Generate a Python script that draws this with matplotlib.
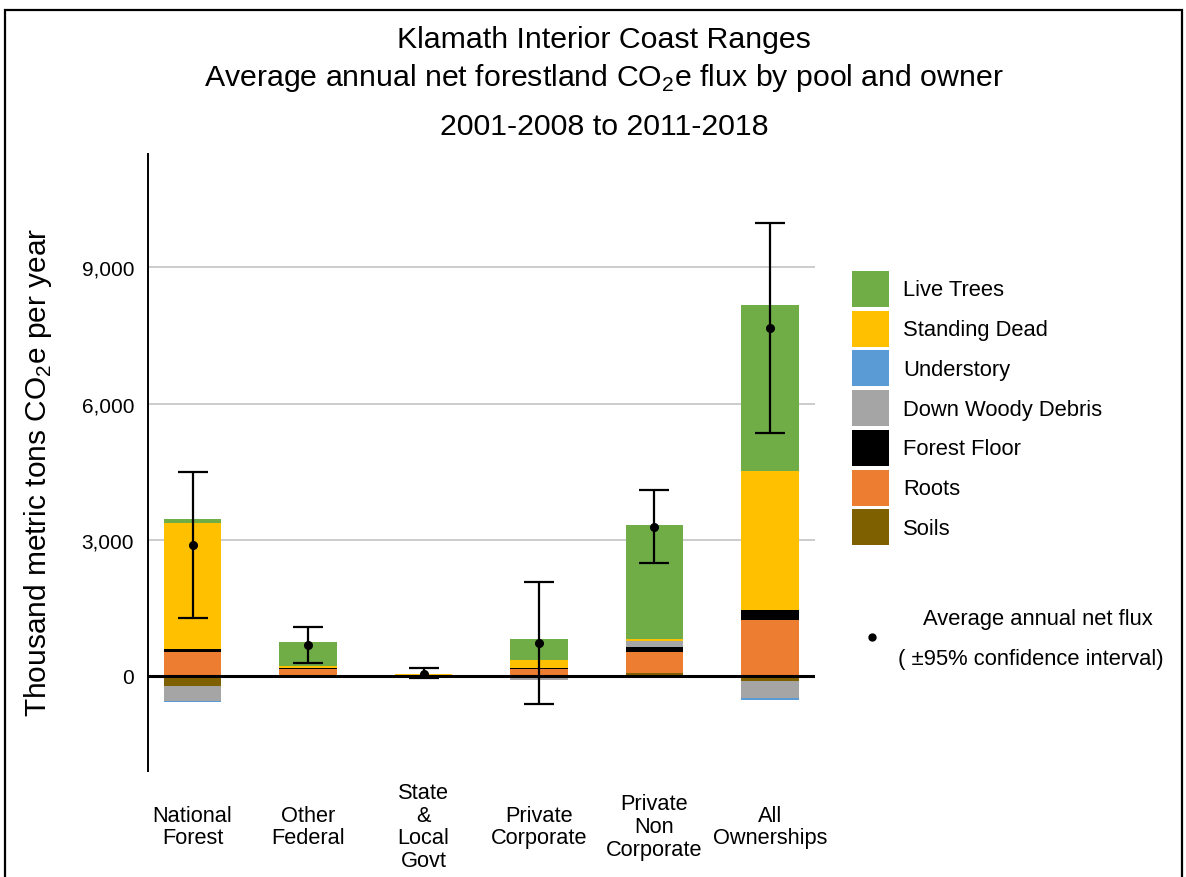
import numpy as np
import matplotlib
matplotlib.use("Agg")
import matplotlib.pyplot as plt
from matplotlib.patches import Rectangle
from matplotlib.lines import Line2D

plt.rcParams["font.family"] = ["Liberation Sans", "DejaVu Sans"]
plt.rcParams["mathtext.fontset"] = "custom"
plt.rcParams["mathtext.rm"] = "Liberation Sans"

# owners along x
owners = ["National\nForest", "Other\nFederal", "State\n&\nLocal\nGovt",
          "Private\nCorporate", "Private\nNon\nCorporate", "All\nOwnerships"]

# pools in stacking order (closest to zero first)
pools = ["Soils", "Roots", "Forest Floor", "Down Woody Debris",
         "Understory", "Standing Dead", "Live Trees"]
pool_colors = ["#7F6000", "#ED7D31", "#000000", "#A5A5A5",
               "#5B9BD5", "#FFC000", "#70AD47"]

# thousand metric tons CO2e per year, one list per pool
soils = [-236, 0, -8, 0, 60, -110]
roots = [525, 143, 5, 148, 470, 1221]
forest_floor = [60, 30, 2, 22, 104, 222]
down_woody = [-331, -45, -5, -104, 124, -386]
understory = [-20, -8, -2, 0, -25, -30]
standing_dead = [2773, 44, 25, 183, 60, 3076]
live_trees = [95, 530, 15, 456, 2500, 3642]
pool_values = [soils, roots, forest_floor, down_woody,
               understory, standing_dead, live_trees]

# net flux and 95% confidence interval
net_flux = [2879, 688, 49, 721, 3287, 7657]
ci_low = [1268, 276, -40, -624, 2477, 5344]
ci_high = [4483, 1077, 172, 2058, 4088, 9970]

W, H = 1186, 878
fig = plt.figure(figsize=(W / 100, H / 100), dpi=100)
ax = fig.add_axes([148 / W, 1 - 772 / H, 667 / W, 617 / H])

x = np.arange(len(owners))
pos_base = np.zeros(len(owners))
neg_base = np.zeros(len(owners))
for name, vals, col in zip(pools, pool_values, pool_colors):
    vals = np.array(vals, dtype=float)
    base = np.where(vals >= 0, pos_base, neg_base)
    ax.bar(x, vals, width=0.5, bottom=base, color=col, zorder=3, linewidth=0)
    pos_base += np.where(vals >= 0, vals, 0)
    neg_base += np.where(vals < 0, vals, 0)

net = np.array(net_flux)
yerr = [net - np.array(ci_low), np.array(ci_high) - net]
ax.errorbar(x, net, yerr=yerr, fmt="o", color="black", ms=5.5,
            elinewidth=1.6, capsize=11, capthick=1.6, zorder=5)

ax.axhline(0, color="black", lw=2.2, zorder=4)
ax.set_ylim(-2100, 11500)
ax.set_xlim(-0.386, 5.39)
ax.set_yticks([0, 3000, 6000, 9000])
ax.set_yticklabels(["0", "3,000", "6,000", "9,000"], fontsize=15)
ax.yaxis.grid(True, color="#C8C8C8", lw=1.3, zorder=0)
ax.tick_params(axis="y", length=0, pad=10)
ax.tick_params(axis="x", length=0, pad=40)
ax.set_xticks(x)
ax.set_xticklabels(owners, va="center", linespacing=1.1, fontsize=15.7)
for s in ["top", "right", "bottom"]:
    ax.spines[s].set_visible(False)
ax.spines["left"].set_linewidth(1.4)

fig.text(38 / W, 1 - 472 / H, "Thousand metric tons CO$_2$e per year",
         rotation=90, ha="center", va="center", fontsize=21.5)

titles = ["Klamath Interior Coast Ranges",
          "Average annual net forestland CO$_2$e flux by pool and owner",
          "2001-2008 to 2011-2018"]
for t, yy in zip(titles, [40, 78, 127]):
    fig.text(604 / W, 1 - yy / H, t, ha="center", va="center", fontsize=21.8)

# legend: colour squares, top entry is the last pool stacked
sq_w, sq_h, pitch = 37, 36, 39.7
for i, (name, col) in enumerate(zip(pools[::-1], pool_colors[::-1])):
    top = 272 + i * pitch
    fig.add_artist(Rectangle((852 / W, 1 - (top + sq_h) / H), sq_w / W, sq_h / H,
                             transform=fig.transFigure, facecolor=col,
                             edgecolor="none"))
    fig.text(903 / W, 1 - (top + sq_h / 2 + 1) / H, name, ha="left",
             va="center", fontsize=15.8)

fig.add_artist(Line2D([872 / W], [1 - 638 / H], marker="o",
                      color="black", ms=5, transform=fig.transFigure))
fig.text(1038 / W, 1 - 620 / H, "Average annual net flux",
         ha="center", va="center", fontsize=15.8)
fig.text(1031 / W, 1 - 660 / H, "( \u00b195% confidence interval)",
         ha="center", va="center", fontsize=15.8)

fig.add_artist(Rectangle((5 / W, -0.02), 1177 / W, 1.02 - 11 / H,
                         transform=fig.transFigure, fill=False,
                         edgecolor="black", lw=1.6))

fig.savefig("out.png", dpi=100)
